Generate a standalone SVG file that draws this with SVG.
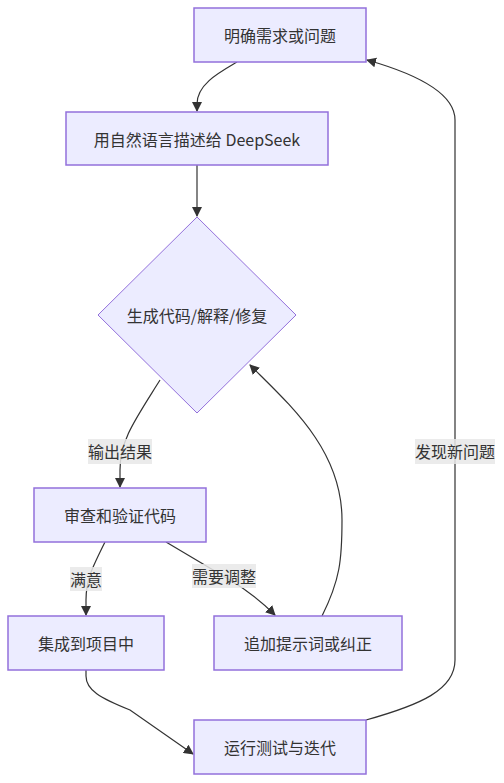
<svg xmlns="http://www.w3.org/2000/svg" width="504" height="783" viewBox="0 0 504 783">
<style>
.node rect,.node polygon{fill:#ECECFF;stroke:#9370DB;stroke-width:1.5}
.node polygon{stroke-width:1}
text{font-family:"Noto Sans CJK SC","Liberation Sans",sans-serif;font-size:16px;fill:#333;text-anchor:middle;dominant-baseline:central}
.edges path{fill:none;stroke:#333;stroke-width:1.2}
.lbl rect{fill:#e8e8e8;opacity:0.85}
</style>
<defs>
<marker id="arr" viewBox="0 0 10 10" refX="9" refY="5" markerWidth="10" markerHeight="10" markerUnits="userSpaceOnUse" orient="auto">
<path d="M0,0 L10,5 L0,10 z" fill="#333"/>
</marker>
</defs>
<rect width="504" height="783" fill="#fff"/>
<g class="edges">
<path d="M237,62 C220,72 197,84 197,104 L197,111" marker-end="url(#arr)"/>
<path d="M197,165 L197,216" marker-end="url(#arr)"/>
<path d="M160,380 C135,420 120,440 120,470 L120,487" marker-end="url(#arr)"/>
<path d="M105,542 C92,568 86,580 86,600 L86,615" marker-end="url(#arr)"/>
<path d="M166,542 L230,580 C250,592 262,602 275,615" marker-end="url(#arr)"/>
<path d="M322,616 C340,580 342,560 342,520 C342,450 290,405 250,365" marker-end="url(#arr)"/>
<path d="M86,670 L86,676 C86,690 100,698 130,710 L193,754" marker-end="url(#arr)"/>
<path d="M366,720 C420,705 455,690 455,660 L455,120 C455,95 420,75 367,60" marker-end="url(#arr)"/>
</g>
<g class="lbl" id="l1"><rect x="88" y="439" width="64" height="25"/><text x="120" y="451">输出结果</text></g>
<g class="lbl" id="l2"><rect x="70" y="567" width="32" height="24"/><text x="86" y="579">满意</text></g>
<g class="lbl" id="l3"><rect x="192" y="564" width="64" height="24"/><text x="224" y="576">需要调整</text></g>
<g class="lbl" id="l4"><rect x="415" y="439" width="80" height="25"/><text x="455" y="451">发现新问题</text></g>
<g class="node" id="A"><rect x="194" y="8" width="172" height="54"/><text x="280" y="35">明确需求或问题</text></g>
<g class="node" id="B"><rect x="66" y="112" width="262" height="53"/><text x="197" y="138.5">用自然语言描述给 DeepSeek</text></g>
<g class="node" id="C"><polygon points="197,217 296,315 197,413 98,315"/><text x="197" y="315">生成代码/解释/修复</text></g>
<g class="node" id="D"><rect x="34" y="488" width="172" height="54"/><text x="120" y="515">审查和验证代码</text></g>
<g class="node" id="E"><rect x="8" y="616" width="156" height="54"/><text x="86" y="643">集成到项目中</text></g>
<g class="node" id="F"><rect x="214" y="616" width="188" height="54"/><text x="308" y="643">追加提示词或纠正</text></g>
<g class="node" id="G"><rect x="194" y="720" width="172" height="54"/><text x="280" y="747">运行测试与迭代</text></g>
</svg>
